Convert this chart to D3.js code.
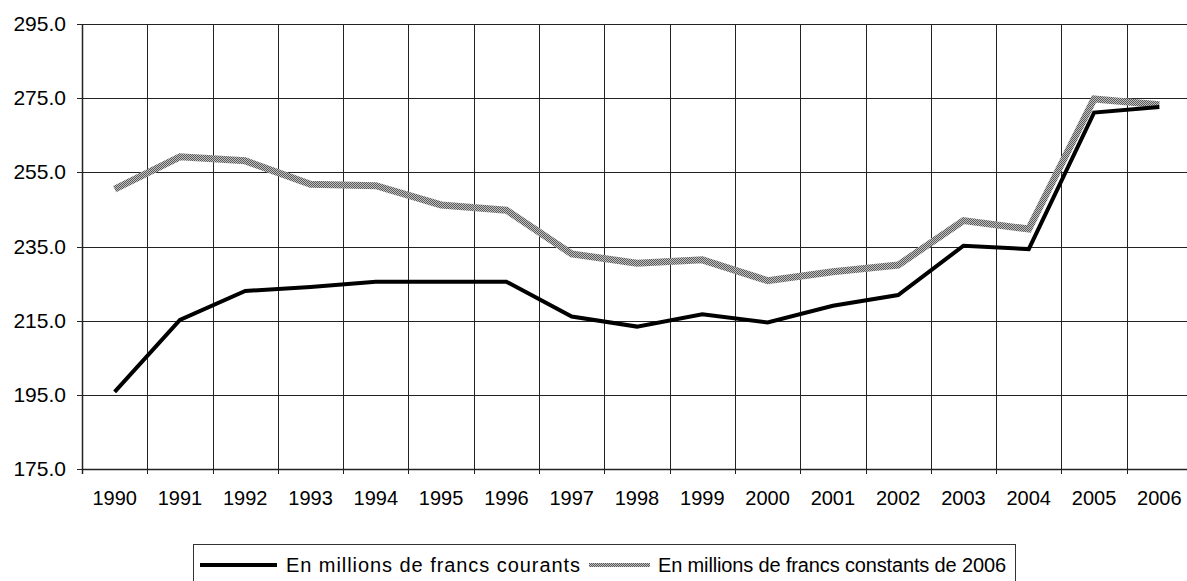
<!DOCTYPE html>
<html>
<head>
<meta charset="utf-8">
<script src="https://cdn.jsdelivr.net/npm/d3@7"></script>
<style>
body { margin: 0; background: #fff; }
svg text { font-family: "Liberation Sans", Arial, sans-serif; fill: #000; }
</style>
</head>
<body>
<div id="chart"></div>
<script>
var years = ["1990","1991","1992","1993","1994","1995","1996","1997","1998","1999","2000","2001","2002","2003","2004","2005","2006"];
var courants = [195.8, 215.2, 223.0, 224.1, 225.5, 225.5, 225.5, 216.1, 213.4, 216.7, 214.5, 219.0, 221.9, 235.2, 234.3, 271.1, 272.6];
var constants = [250.5, 259.2, 258.1, 251.8, 251.4, 246.2, 244.8, 233.0, 230.5, 231.4, 225.8, 228.2, 230.0, 242.0, 239.7, 274.8, 273.2];
var yTicks = [175, 195, 215, 235, 255, 275, 295];
var seriesNames = ["En millions de francs courants", "En millions de francs constants de 2006"];

var W = 1187, H = 581;
var svg = d3.select("#chart").append("svg")
    .attr("width", W)
    .attr("height", H);

// dithered grey stroke for the constant-franc line
var pat = svg.append("defs").append("pattern")
    .attr("id", "dither")
    .attr("patternUnits", "userSpaceOnUse")
    .attr("width", 2).attr("height", 2);
pat.append("rect").attr("width", 2).attr("height", 2).attr("fill", "#c0c0c0");
pat.append("rect").attr("width", 1).attr("height", 1).attr("fill", "#5a5a5a");
pat.append("rect").attr("x", 1).attr("y", 1).attr("width", 1).attr("height", 1).attr("fill", "#5a5a5a");

var x = d3.scaleBand()
    .domain(years)
    .range([82, 1192])
    .padding(0);

var y = d3.scaleLinear()
    .domain([175, 295])
    .range([469, 24]);

var cx = function(d, i) { return x(years[i]) + x.bandwidth() / 2; };

// horizontal grid
svg.append("g").selectAll("line")
  .data(yTicks)
  .enter().append("line")
    .attr("x1", 77).attr("x2", W)
    .attr("y1", function(d) { return Math.round(y(d)) + 0.5; })
    .attr("y2", function(d) { return Math.round(y(d)) + 0.5; })
    .attr("stroke", "#222")
    .attr("stroke-width", 1);

// vertical grid at category boundaries
svg.append("g").selectAll("line")
  .data(years.slice(1))
  .enter().append("line")
    .attr("x1", function(d) { return Math.round(x(d)) + 0.5; })
    .attr("x2", function(d) { return Math.round(x(d)) + 0.5; })
    .attr("y1", y(295)).attr("y2", y(175) + 5)
    .attr("stroke", "#222")
    .attr("stroke-width", 1);

// axes
svg.append("line")
    .attr("x1", 82.5).attr("x2", 82.5)
    .attr("y1", y(295)).attr("y2", y(175) + 5)
    .attr("stroke", "#222").attr("stroke-width", 1.5);
svg.append("line")
    .attr("x1", 82).attr("x2", W)
    .attr("y1", Math.round(y(175)) + 0.5).attr("y2", Math.round(y(175)) + 0.5)
    .attr("stroke", "#222").attr("stroke-width", 1.5);

svg.append("g").selectAll("text")
  .data(yTicks)
  .enter().append("text")
    .attr("x", 66)
    .attr("y", function(d) { return y(d) + 7; })
    .attr("text-anchor", "end")
    .style("font-size", "21px")
    .text(function(d) { return d.toFixed(1); });

svg.append("g").selectAll("text")
  .data(years)
  .enter().append("text")
    .attr("x", function(d) { return x(d) + x.bandwidth() / 2; })
    .attr("y", 505)
    .attr("text-anchor", "middle")
    .style("font-size", "20px")
    .text(function(d) { return d; });

var line = d3.line()
    .x(cx)
    .y(function(d) { return y(d); });

svg.append("path")
    .datum(constants)
    .attr("d", line)
    .attr("fill", "none")
    .attr("stroke", "url(#dither)")
    .attr("stroke-width", 7);

svg.append("path")
    .datum(courants)
    .attr("d", line)
    .attr("fill", "none")
    .attr("stroke", "#000")
    .attr("stroke-width", 4);

// legend
var lg = svg.append("g");
lg.append("rect")
    .attr("x", 193.5).attr("y", 544.5)
    .attr("width", 822).attr("height", 50)
    .attr("fill", "#fff")
    .attr("stroke", "#333")
    .attr("stroke-width", 1);
lg.append("line")
    .attr("x1", 200).attr("x2", 277)
    .attr("y1", 565).attr("y2", 565)
    .attr("stroke", "#000").attr("stroke-width", 4);
lg.append("text")
    .attr("x", 286).attr("y", 572)
    .attr("textLength", 294)
    .style("font-size", "20px")
    .text(seriesNames[0]);
lg.append("line")
    .attr("x1", 589).attr("x2", 650)
    .attr("y1", 565).attr("y2", 565)
    .attr("stroke", "url(#dither)").attr("stroke-width", 4);
lg.append("text")
    .attr("x", 658).attr("y", 572)
    .attr("textLength", 348)
    .style("font-size", "20px")
    .text(seriesNames[1]);
</script>
</body>
</html>
